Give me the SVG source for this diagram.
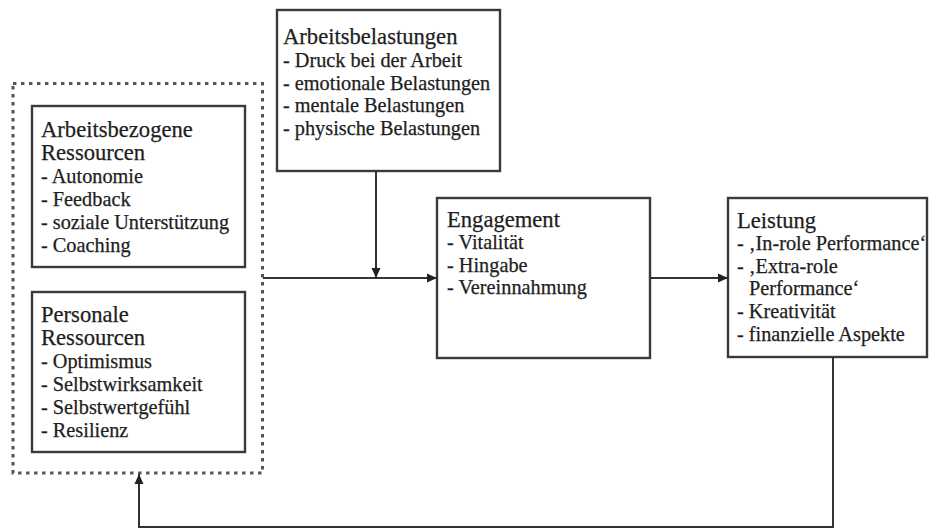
<svg xmlns="http://www.w3.org/2000/svg" width="930" height="529" viewBox="0 0 930 529">
  <style>
    .box { fill: #ffffff; stroke: #3a3a3a; stroke-width: 2.4; }
    .group { fill: none; stroke: #555555; stroke-width: 3; stroke-dasharray: 3.4 4.6; }
    .line { fill: none; stroke: #333333; stroke-width: 2; }
    text { font-family: "Liberation Serif", "Times New Roman", serif; fill: #1e1e1e; stroke: #1e1e1e; stroke-width: 0.25; }
    .title { font-size: 22.6px; }
    .item { font-size: 20.3px; }
  </style>
  <defs>
    <marker id="arrow" viewBox="0 0 10 10" refX="10" refY="5" markerWidth="10" markerHeight="10" markerUnits="userSpaceOnUse" orient="auto">
      <path d="M0,0.5 L10,5 L0,9.5 Z" fill="#222222"/>
    </marker>
  </defs>
  <rect width="930" height="529" fill="#ffffff"/>

  <!-- Resources group (dotted frame) -->
  <g id="ressourcen">
    <rect class="group" x="13" y="83.5" width="249.5" height="389.5"/>
  </g>

  <g id="arbeitsbezogene-ressourcen">
    <rect class="box" x="32" y="106" width="213" height="161"/>
    <text class="title" x="41" y="137">Arbeitsbezogene</text>
    <text class="title" x="41" y="160">Ressourcen</text>
    <text class="item" x="41" y="183">- Autonomie</text>
    <text class="item" x="41" y="206">- Feedback</text>
    <text class="item" x="41" y="229">- soziale Unterstützung</text>
    <text class="item" x="41" y="252">- Coaching</text>
  </g>

  <g id="personale-ressourcen">
    <rect class="box" x="32" y="292" width="213" height="160"/>
    <text class="title" x="41" y="322">Personale</text>
    <text class="title" x="41" y="345">Ressourcen</text>
    <text class="item" x="41" y="368">- Optimismus</text>
    <text class="item" x="41" y="391">- Selbstwirksamkeit</text>
    <text class="item" x="41" y="414">- Selbstwertgefühl</text>
    <text class="item" x="41" y="437">- Resilienz</text>
  </g>

  <g id="arbeitsbelastungen">
    <rect class="box" x="277" y="10" width="223" height="161"/>
    <text class="title" x="283" y="44">Arbeitsbelastungen</text>
    <text class="item" x="283" y="67">- Druck bei der Arbeit</text>
    <text class="item" x="283" y="90">- emotionale Belastungen</text>
    <text class="item" x="283" y="112">- mentale Belastungen</text>
    <text class="item" x="283" y="135">- physische Belastungen</text>
  </g>

  <g id="engagement">
    <rect class="box" x="437" y="198" width="213" height="160"/>
    <text class="title" x="447" y="227">Engagement</text>
    <text class="item" x="447" y="249">- Vitalität</text>
    <text class="item" x="447" y="272">- Hingabe</text>
    <text class="item" x="447" y="294">- Vereinnahmung</text>
  </g>

  <g id="leistung">
    <rect class="box" x="728" y="198" width="199" height="159"/>
    <text class="title" x="737" y="228">Leistung</text>
    <text class="item" x="737" y="250">- ‚In-role Performance‘</text>
    <text class="item" x="737" y="273">- ‚Extra-role</text>
    <text class="item" x="749" y="295">Performance‘</text>
    <text class="item" x="737" y="318">- Kreativität</text>
    <text class="item" x="737" y="341">- finanzielle Aspekte</text>
  </g>

  <!-- Connectors -->
  <g id="connectors">
    <path class="line" d="M263,278 L437,278" marker-end="url(#arrow)"/>
    <path class="line" d="M376,171 L376,278" marker-end="url(#arrow)"/>
    <path class="line" d="M650,278 L728,278" marker-end="url(#arrow)"/>
    <path class="line" d="M833,357 L833,527 L139,527 L139,474" marker-end="url(#arrow)"/>
  </g>
</svg>
